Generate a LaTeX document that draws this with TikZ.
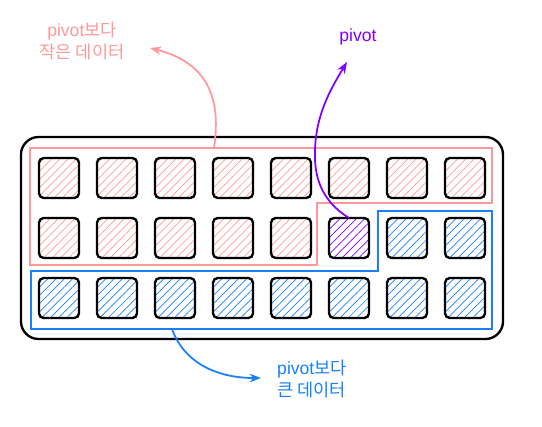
\documentclass[tikz,border=0pt]{standalone}
\usepackage{fontspec}
\setmainfont{Liberation Sans}
\newfontfamily\kr{Noto Sans CJK KR}
\usetikzlibrary{positioning, arrows.meta, patterns.meta}
\definecolor{lesspink}{RGB}{255,153,153}
\definecolor{moreblue}{RGB}{24,128,255}
\definecolor{pivotpurple}{RGB}{128,0,255}
\tikzset{
  cell/.style={
    draw,
    rectangle,
    rounded corners=4pt,
    line width=2pt,
    minimum width=1.2cm,
    minimum height=1.2cm,
    outer sep=0pt
  },
  lesscell/.style={
    cell,
    pattern={Lines[angle=45, distance=5pt, line width=0.6pt]},
    pattern color=lesspink
  },
  morecell/.style={
    cell,
    pattern={Lines[angle=45, distance=5pt, line width=0.6pt]},
    pattern color=moreblue
  },
  pivotcell/.style={
    cell,
    pattern={Lines[angle=45, distance=5pt, line width=0.6pt]},
    pattern color=pivotpurple
  },
  label/.style={
    font=\fontsize{15}{19}\selectfont,
    align=center,
    inner sep=0pt
  }
}

\begin{document}
\begin{tikzpicture}[x=0.03cm, y=-0.03cm]
    \useasboundingbox (0,0) rectangle (542,426);

    % outer box
    \draw[line width=2pt, rounded corners=15pt] (21,137) rectangle (503,339);

    % row 1
    \node[lesscell] (a1) at (59,178) {};
    \node[lesscell, right=0.54cm of a1] (a2) {};
    \node[lesscell, right=0.54cm of a2] (a3) {};
    \node[lesscell, right=0.54cm of a3] (a4) {};
    \node[lesscell, right=0.54cm of a4] (a5) {};
    \node[lesscell, right=0.54cm of a5] (a6) {};
    \node[lesscell, right=0.54cm of a6] (a7) {};
    \node[lesscell, right=0.54cm of a7] (a8) {};

    % row 2
    \node[lesscell, below=0.6cm of a1] (b1) {};
    \node[lesscell, right=0.54cm of b1] (b2) {};
    \node[lesscell, right=0.54cm of b2] (b3) {};
    \node[lesscell, right=0.54cm of b3] (b4) {};
    \node[lesscell, right=0.54cm of b4] (b5) {};
    \node[pivotcell, right=0.54cm of b5] (pivot) {};
    \node[morecell, right=0.54cm of pivot] (b7) {};
    \node[morecell, right=0.54cm of b7] (b8) {};

    % row 3
    \node[morecell, below=0.6cm of b1] (c1) {};
    \node[morecell, right=0.54cm of c1] (c2) {};
    \node[morecell, right=0.54cm of c2] (c3) {};
    \node[morecell, right=0.54cm of c3] (c4) {};
    \node[morecell, right=0.54cm of c4] (c5) {};
    \node[morecell, right=0.54cm of c5] (c6) {};
    \node[morecell, right=0.54cm of c6] (c7) {};
    \node[morecell, right=0.54cm of c7] (c8) {};

    % groups
    \draw[lesspink, line width=1.8pt]
      (30,148) -- (492,148) -- (492,203) -- (317,203) -- (317,265) -- (30,265) -- cycle;
    \draw[moreblue, line width=1.8pt]
      (378,211) -- (492,211) -- (492,329) -- (31,329) -- (31,271) -- (378,271) -- cycle;

    % labels
    \node[label, text=lesspink] (less) at (82,41) {pivot{\kr 보다}\\{\kr 작은 데이터}};
    \node[label, text=pivotpurple] (pivotlbl) at (358,37) {pivot};
    \node[label, text=moreblue, align=left, anchor=west] (more) at (277,379) {pivot{\kr 보다}\\{\kr 큰 데이터}};

    \coordinate (lessstart) at (214,148);
    \coordinate (lessend) at (150,48);
    \coordinate (pivotend) at (347,62);
    \coordinate (morestart) at (172,329);
    \coordinate (moreend) at (261,378);

    \draw[-Stealth, lesspink, line width=1.5pt]
      (lessstart) .. controls (222,95) and (205,62) .. (lessend);
    \draw[-Stealth, pivotpurple, line width=1.5pt]
      (pivot.north) .. controls (320,200) and (314,175) .. (315,150)
      .. controls (316,115) and (330,90) .. (pivotend);
    \draw[-Stealth, moreblue, line width=1.5pt]
      (morestart) .. controls (185,365) and (220,378) .. (moreend);
\end{tikzpicture}
\end{document}
